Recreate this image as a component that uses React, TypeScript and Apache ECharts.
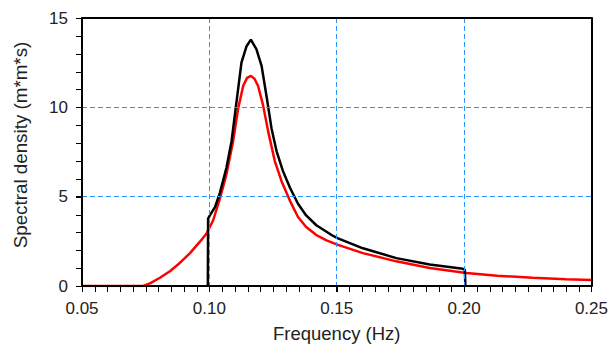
import React, { useEffect, useRef } from "react";
import * as echarts from "echarts";

// Red spectrum (frequency Hz, spectral density m*m*s)
const redFreq = [0.05, 0.074, 0.0767, 0.0806, 0.0845, 0.0884, 0.0924, 0.0963, 0.0989, 0.1015, 0.1041, 0.1067, 0.1093, 0.1113, 0.1133, 0.1148, 0.1163, 0.1177, 0.1191, 0.1211, 0.1231, 0.1257, 0.1283, 0.1316, 0.1348, 0.138, 0.142, 0.146, 0.1505, 0.1603, 0.1734, 0.1865, 0.2009, 0.213, 0.2269, 0.24, 0.25];
const redDensity = [0, 0, 0.15, 0.46, 0.83, 1.29, 1.84, 2.48, 2.94, 3.68, 4.87, 6.25, 8.09, 9.93, 11.21, 11.65, 11.76, 11.6, 11.21, 10.11, 8.64, 6.99, 5.88, 4.78, 3.86, 3.3, 2.85, 2.55, 2.3, 1.84, 1.38, 1.01, 0.73, 0.58, 0.46, 0.38, 0.33];

// Black spectrum
const blackFreq = [0.0994, 0.0995, 0.1002, 0.1022, 0.1041, 0.1067, 0.1087, 0.11, 0.1113, 0.1126, 0.1146, 0.1163, 0.1185, 0.1205, 0.1224, 0.1244, 0.1264, 0.1289, 0.1316, 0.1348, 0.138, 0.142, 0.1486, 0.1505, 0.1603, 0.1734, 0.1865, 0.1995, 0.2003, 0.2005];
const blackDensity = [0, 3.77, 3.95, 4.41, 5.2, 6.62, 8.09, 9.56, 11.03, 12.5, 13.42, 13.79, 13.24, 12.32, 10.66, 8.82, 7.54, 6.43, 5.51, 4.6, 3.95, 3.4, 2.8, 2.67, 2.11, 1.56, 1.2, 0.96, 0.9, 0];

const xTicks = [0.05, 0.1, 0.15, 0.2, 0.25];
const yTicks = [0, 5, 10, 15];
const xMajor = 0.05;
const xMinor = 0.005;
const yMajor = 5;
const yMinor = 1;

const FONT = "Liberation Sans, Arial, sans-serif";
const GRID_BLUE = "#2a93ff";
const TICK_LEN = 6;

const steps = (min: number, max: number, step: number) => {
  const n = Math.round((max - min) / step);
  const out: number[] = [];
  for (let i = 0; i <= n; i++) out.push(+(min + i * step).toFixed(6));
  return out;
};

export default function App() {
  const ref = useRef<HTMLDivElement>(null);
  useEffect(() => {
    if (!ref.current) return;
    const chart = echarts.init(ref.current, null, { renderer: "svg" });
    const pairs = (xs: number[], ys: number[]) => xs.map((x, i) => [x, ys[i]]);
    const xMin = xTicks[0];
    const xMax = xTicks[xTicks.length - 1];
    const yMin = yTicks[0];
    const yMax = yTicks[yTicks.length - 1];
    const dashed = {
      show: true,
      showMinLine: false,
      showMaxLine: false,
      lineStyle: { color: GRID_BLUE, type: [5, 3], width: 1 },
    };
    const majorTick = { show: true, inside: false, length: TICK_LEN, lineStyle: { color: "#000", width: 1 } };
    chart.setOption({
      animation: false,
      backgroundColor: "#ffffff",
      grid: { left: 82, right: 19, top: 18, bottom: 58 },
      xAxis: [
        {
          type: "value",
          min: xMin,
          max: xMax,
          interval: xMajor,
          position: "bottom",
          name: "Frequency (Hz)",
          nameLocation: "middle",
          nameGap: 38,
          nameTextStyle: { fontFamily: FONT, fontSize: 18.5, color: "#222" },
          axisLine: { show: true, onZero: false, lineStyle: { color: "#000", width: 2 } },
          axisTick: majorTick,
          axisLabel: {
            fontFamily: FONT,
            fontSize: 17,
            color: "#222",
            margin: 14,
            formatter: (v: number) => v.toFixed(2),
          },
          splitLine: dashed,
          z: 4,
        },
        {
          type: "value",
          min: xMin,
          max: xMax,
          position: "top",
          axisLine: { show: true, onZero: false, lineStyle: { color: "#000", width: 2 } },
          axisTick: { show: false },
          axisLabel: { show: false },
          splitLine: { show: false },
          z: 4,
        },
      ],
      yAxis: [
        {
          type: "value",
          min: yMin,
          max: yMax,
          interval: yMajor,
          position: "left",
          name: "Spectral density (m*m*s)",
          nameLocation: "middle",
          nameGap: 52,
          nameTextStyle: { fontFamily: FONT, fontSize: 18.8, color: "#222", padding: [0, 0, 0, 14] },
          axisLine: { show: true, onZero: false, lineStyle: { color: "#000", width: 2 } },
          axisTick: majorTick,
          axisLabel: { fontFamily: FONT, fontSize: 17, color: "#222", margin: 14 },
          splitLine: dashed,
          z: 4,
        },
        {
          type: "value",
          min: yMin,
          max: yMax,
          position: "right",
          axisLine: { show: true, onZero: false, lineStyle: { color: "#000", width: 2 } },
          axisTick: { show: false },
          axisLabel: { show: false },
          splitLine: { show: false },
          z: 4,
        },
      ],
      series: [
        {
          type: "line",
          data: pairs(redFreq, redDensity),
          showSymbol: false,
          smooth: false,
          lineStyle: { color: "#ff0000", width: 2.5 },
          itemStyle: { color: "#ff0000" },
          z: 2,
        },
        {
          type: "line",
          data: pairs(blackFreq, blackDensity),
          showSymbol: false,
          smooth: false,
          lineStyle: { color: "#000000", width: 2.5 },
          itemStyle: { color: "#000000" },
          z: 3,
        },
      ],
    });

    // Minor + major ticks as thin filled rects, positioned through the chart's own scales
    const tickEls: any[] = [];
    steps(xMin, xMax, xMinor).forEach((v) => {
      const p = chart.convertToPixel({ xAxisIndex: 0, yAxisIndex: 0 }, [v, yMin]) as number[];
      tickEls.push({
        type: "rect",
        silent: true,
        z: 10,
        shape: { x: Math.round(p[0]), y: Math.round(p[1]), width: 1, height: TICK_LEN },
        style: { fill: "#000" },
      });
    });
    steps(yMin, yMax, yMinor).forEach((v) => {
      const p = chart.convertToPixel({ xAxisIndex: 0, yAxisIndex: 0 }, [xMin, v]) as number[];
      tickEls.push({
        type: "rect",
        silent: true,
        z: 10,
        shape: { x: Math.round(p[0]) - TICK_LEN, y: Math.round(p[1]), width: TICK_LEN, height: 1 },
        style: { fill: "#000" },
      });
    });
    chart.setOption({ graphic: { elements: tickEls } });

    return () => chart.dispose();
  }, []);
  return (
    <div
      ref={ref}
      style={{ position: "fixed", left: 0, top: 0, width: 611, height: 348, background: "#fff" }}
    />
  );
}
